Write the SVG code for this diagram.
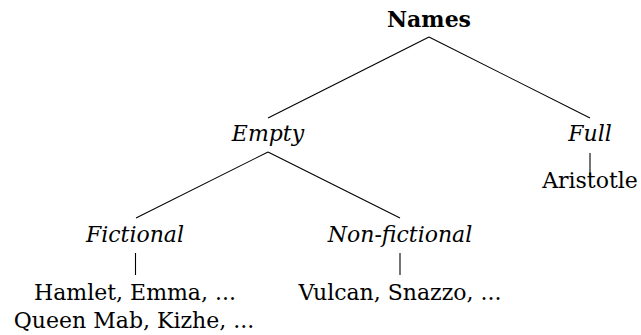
<svg xmlns="http://www.w3.org/2000/svg" width="641" height="335" viewBox="0 0 641 335">
<style>
text{font-family:"DejaVu Serif","Liberation Serif",serif;font-size:22px;fill:#000;text-anchor:middle}
.b{font-weight:bold}
.i{font-style:italic}
.edges line{stroke:#000;stroke-width:1.1}
</style>
<rect width="641" height="335" fill="#fff"/>
<g class="edges" id="connectors">
<line x1="429" y1="37" x2="268" y2="118"/>
<line x1="429" y1="37" x2="590" y2="118"/>
<line x1="268" y1="152" x2="136" y2="218"/>
<line x1="268" y1="152" x2="400" y2="218"/>
<line x1="590" y1="153" x2="590" y2="175"/>
<line x1="135.5" y1="253" x2="135.5" y2="275"/>
<line x1="400" y1="253" x2="400" y2="275"/>
</g>
<g id="names"><text class="b" x="429" y="27">Names</text></g>
<g id="empty"><text class="i" x="268" y="141">Empty</text></g>
<g id="full"><text class="i" x="590" y="141">Full</text></g>
<g id="aristotle"><text x="590" y="188">Aristotle</text></g>
<g id="fictional"><text class="i" x="135" y="242">Fictional</text></g>
<g id="nonfictional"><text class="i" x="400" y="242">Non-fictional</text></g>
<g id="fictional-examples"><text x="135" y="300">Hamlet, Emma, ...</text><text x="134" y="328">Queen Mab, Kizhe, ...</text></g>
<g id="nonfictional-examples"><text x="400" y="300">Vulcan, Snazzo, ...</text></g>
</svg>
